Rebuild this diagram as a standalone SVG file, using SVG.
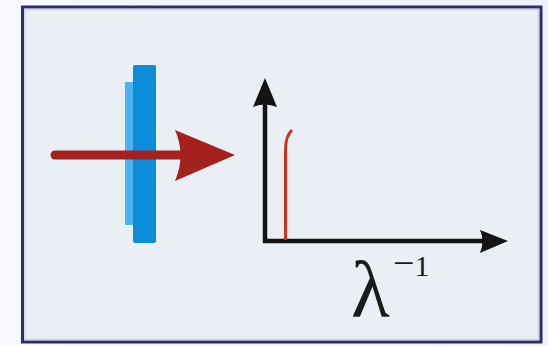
<svg xmlns="http://www.w3.org/2000/svg" width="548" height="346" viewBox="0 0 548 346">
<defs>
<linearGradient id="bgout" x1="0" y1="0" x2="1" y2="0">
<stop offset="0" stop-color="#f6f8fd"/>
<stop offset="1" stop-color="#eef2fa"/>
</linearGradient>
</defs>
<style>
.axis{stroke:#141414;stroke-width:4.5;fill:none}
.head{fill:#141414}
.sym{font-family:"Liberation Serif","Times New Roman",serif;fill:#1a1a1a}
</style>
<rect x="0" y="0" width="548" height="346" fill="url(#bgout)"/>
<g id="frame">
<rect x="22.5" y="7" width="518.5" height="335" fill="#eaeff6" stroke="#2f2c6c" stroke-width="3"/>
<rect x="25" y="9.5" width="513.5" height="330" fill="none" stroke="#cfcff0" stroke-width="1.5"/>
</g>
<g id="filter">
<rect x="125" y="82" width="9" height="143" fill="#4db3ee"/>
<rect x="133" y="65" width="23" height="178" rx="2" fill="#0e8bd9"/>
</g>
<g id="connectors">
<line x1="55" y1="155" x2="190" y2="155" stroke="#a3221f" stroke-width="9" stroke-linecap="round"/>
<path d="M175,130 L235,155 L175,181 Q186,155 175,130 Z" fill="#a3221f"/>
</g>
<g id="plot">
<line class="axis" x1="265" y1="243" x2="265" y2="100"/>
<path class="head" d="M265,78 L277,107 Q265,102 253,107 Z"/>
<line class="axis" x1="263" y1="241" x2="488" y2="241"/>
<path class="head" d="M508,241 L480,253 Q485,241 480,230 Z"/>
<path d="M285.5,240 L285.5,150 Q285.5,136 292,130" fill="none" stroke="#d2301f" stroke-width="3"/>
<text class="sym" x="351" y="317" font-size="80">λ</text>
<text class="sym" x="393" y="276"><tspan font-size="38">−</tspan><tspan font-size="30">1</tspan></text>
</g>
</svg>
